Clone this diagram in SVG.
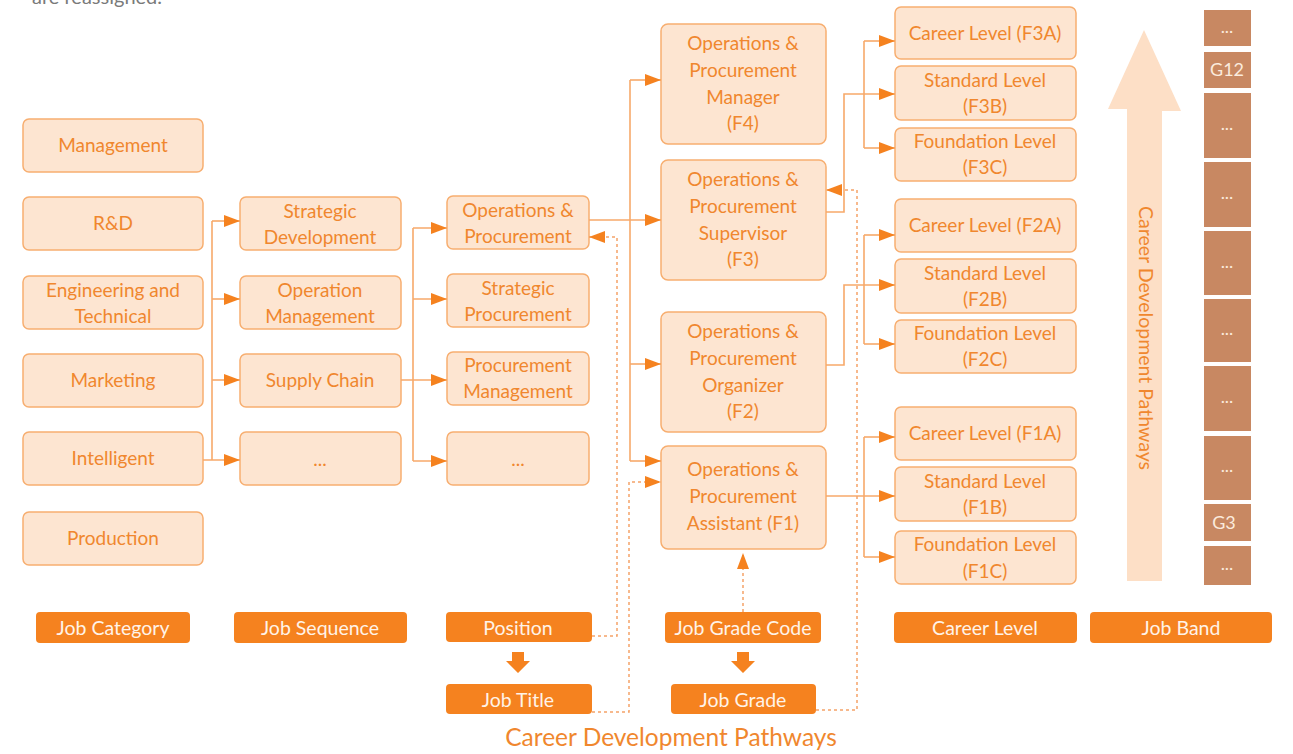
<svg xmlns="http://www.w3.org/2000/svg" width="1293" height="754" viewBox="0 0 1293 754">
  <style>
    .box { fill: #FDE5D1; stroke: #F7AE70; stroke-width: 1.5; }
    .bt { font-family: Lato, "Open Sans", "Liberation Sans", sans-serif; font-size: 19px; fill: #F0872E; text-anchor: middle; }
    .lab { fill: #F5821F; }
    .lt { font-family: Lato, "Open Sans", "Liberation Sans", sans-serif; font-size: 19.5px; fill: #FFF3E8; text-anchor: middle; }
    .band { fill: #C88862; }
    .bandt { font-family: Lato, "Open Sans", "Liberation Sans", sans-serif; font-size: 18px; fill: #FBEBDD; text-anchor: middle; }
    .conn { fill: none; stroke: #F7A96A; stroke-width: 1.6; }
    .dot { fill: none; stroke: #F5A368; stroke-width: 1.5; stroke-dasharray: 3 3; }
  </style>
  <defs>
    <marker id="arrow" markerUnits="userSpaceOnUse" markerWidth="16" markerHeight="12" refX="16" refY="6" orient="auto">
      <path d="M0,0 L16,6 L0,12 Z" fill="#F5821F"/>
    </marker>
  </defs>

  <!-- caption line running off the top edge -->
  <text x="32" y="4" font-family="Lato, 'Open Sans', 'Liberation Sans', sans-serif" font-size="20" fill="#7A7A7A">are reassigned.</text>

  <!-- Job categories -->
  <g id="cat-management"><rect class="box" x="23" y="119" width="180" height="53" rx="6"/><text class="bt" x="113" y="152">Management</text></g>
  <g id="cat-rnd"><rect class="box" x="23" y="197" width="180" height="53" rx="6"/><text class="bt" x="113" y="230">R&amp;D</text></g>
  <g id="cat-eng"><rect class="box" x="23" y="276" width="180" height="53" rx="6"/><text class="bt" x="113" y="297">Engineering and</text><text class="bt" x="113" y="323">Technical</text></g>
  <g id="cat-marketing"><rect class="box" x="23" y="354" width="180" height="53" rx="6"/><text class="bt" x="113" y="387">Marketing</text></g>
  <g id="cat-intelligent"><rect class="box" x="23" y="432" width="180" height="53" rx="6"/><text class="bt" x="113" y="465">Intelligent</text></g>
  <g id="cat-production"><rect class="box" x="23" y="512" width="180" height="53" rx="6"/><text class="bt" x="113" y="545">Production</text></g>

  <!-- Job sequences -->
  <g id="seq-strategic"><rect class="box" x="240" y="197" width="161" height="53" rx="6"/><text class="bt" x="320" y="218">Strategic</text><text class="bt" x="320" y="244">Development</text></g>
  <g id="seq-operation"><rect class="box" x="240" y="276" width="161" height="53" rx="6"/><text class="bt" x="320" y="297">Operation</text><text class="bt" x="320" y="323">Management</text></g>
  <g id="seq-supply"><rect class="box" x="240" y="354" width="161" height="53" rx="6"/><text class="bt" x="320" y="387">Supply Chain</text></g>
  <g id="seq-more"><rect class="box" x="240" y="432" width="161" height="53" rx="6"/><text class="bt" x="320" y="466">...</text></g>

  <!-- Positions -->
  <g id="pos-opsproc"><rect class="box" x="447" y="196" width="142" height="53" rx="6"/><text class="bt" x="518" y="217">Operations &amp;</text><text class="bt" x="518" y="243">Procurement</text></g>
  <g id="pos-strategic"><rect class="box" x="447" y="274" width="142" height="53" rx="6"/><text class="bt" x="518" y="295">Strategic</text><text class="bt" x="518" y="321">Procurement</text></g>
  <g id="pos-procmgmt"><rect class="box" x="447" y="352" width="142" height="53" rx="6"/><text class="bt" x="518" y="372">Procurement</text><text class="bt" x="518" y="398">Management</text></g>
  <g id="pos-more"><rect class="box" x="447" y="432" width="142" height="53" rx="6"/><text class="bt" x="518" y="466">...</text></g>

  <!-- Job titles by grade code -->
  <g id="title-f4"><rect class="box" x="661" y="24" width="165" height="120" rx="7"/><text class="bt" x="743" y="50">Operations &amp;</text><text class="bt" x="743" y="77">Procurement</text><text class="bt" x="743" y="104">Manager</text><text class="bt" x="743" y="130">(F4)</text></g>
  <g id="title-f3"><rect class="box" x="661" y="160" width="165" height="120" rx="7"/><text class="bt" x="743" y="186">Operations &amp;</text><text class="bt" x="743" y="213">Procurement</text><text class="bt" x="743" y="240">Supervisor</text><text class="bt" x="743" y="266">(F3)</text></g>
  <g id="title-f2"><rect class="box" x="661" y="312" width="165" height="120" rx="7"/><text class="bt" x="743" y="338">Operations &amp;</text><text class="bt" x="743" y="365">Procurement</text><text class="bt" x="743" y="392">Organizer</text><text class="bt" x="743" y="418">(F2)</text></g>
  <g id="title-f1"><rect class="box" x="661" y="446" width="165" height="103" rx="7"/><text class="bt" x="743" y="476">Operations &amp;</text><text class="bt" x="743" y="503">Procurement</text><text class="bt" x="743" y="530">Assistant (F1)</text></g>

  <!-- Career levels -->
  <g id="lvl-f3a"><rect class="box" x="895" y="7" width="181" height="52" rx="6"/><text class="bt" x="985" y="40">Career Level (F3A)</text></g>
  <g id="lvl-f3b"><rect class="box" x="895" y="66" width="181" height="54" rx="6"/><text class="bt" x="985" y="87">Standard Level</text><text class="bt" x="985" y="113">(F3B)</text></g>
  <g id="lvl-f3c"><rect class="box" x="895" y="128" width="181" height="53" rx="6"/><text class="bt" x="985" y="148">Foundation Level</text><text class="bt" x="985" y="174">(F3C)</text></g>
  <g id="lvl-f2a"><rect class="box" x="895" y="199" width="181" height="53" rx="6"/><text class="bt" x="985" y="232">Career Level (F2A)</text></g>
  <g id="lvl-f2b"><rect class="box" x="895" y="259" width="181" height="54" rx="6"/><text class="bt" x="985" y="280">Standard Level</text><text class="bt" x="985" y="306">(F2B)</text></g>
  <g id="lvl-f2c"><rect class="box" x="895" y="320" width="181" height="53" rx="6"/><text class="bt" x="985" y="340">Foundation Level</text><text class="bt" x="985" y="366">(F2C)</text></g>
  <g id="lvl-f1a"><rect class="box" x="895" y="407" width="181" height="53" rx="6"/><text class="bt" x="985" y="440">Career Level (F1A)</text></g>
  <g id="lvl-f1b"><rect class="box" x="895" y="467" width="181" height="54" rx="6"/><text class="bt" x="985" y="488">Standard Level</text><text class="bt" x="985" y="514">(F1B)</text></g>
  <g id="lvl-f1c"><rect class="box" x="895" y="531" width="181" height="53" rx="6"/><text class="bt" x="985" y="551">Foundation Level</text><text class="bt" x="985" y="578">(F1C)</text></g>

  <!-- Upward pathway arrow -->
  <g id="pathway-arrow">
    <path d="M1144,30 L1181,111 L1162,111 L1162,581 L1127,581 L1127,109 L1108,109 Z" fill="#FDDFC6"/>
    <text transform="translate(1139,338) rotate(90)" font-family="Lato, 'Open Sans', 'Liberation Sans', sans-serif" font-size="19.5" fill="#F0872E" text-anchor="middle">Career Development Pathways</text>
  </g>

  <!-- Job band cells -->
  <g id="job-band">
    <rect class="band" x="1204" y="10" width="47" height="36"/><text class="bandt" x="1227" y="33">...</text>
    <rect class="band" x="1204" y="52" width="47" height="36"/><text class="bandt" x="1227" y="76">G12</text>
    <rect class="band" x="1204" y="93" width="47" height="65"/><text class="bandt" x="1227" y="130">...</text>
    <rect class="band" x="1204" y="162" width="47" height="65"/><text class="bandt" x="1227" y="199">...</text>
    <rect class="band" x="1204" y="231" width="47" height="64"/><text class="bandt" x="1227" y="268">...</text>
    <rect class="band" x="1204" y="299" width="47" height="63"/><text class="bandt" x="1227" y="335">...</text>
    <rect class="band" x="1204" y="366" width="47" height="65"/><text class="bandt" x="1227" y="403">...</text>
    <rect class="band" x="1204" y="436" width="47" height="64"/><text class="bandt" x="1227" y="472">...</text>
    <rect class="band" x="1204" y="504" width="47" height="37"/><text class="bandt" x="1224" y="529">G3</text>
    <rect class="band" x="1204" y="546" width="47" height="39"/><text class="bandt" x="1227" y="570">...</text>
  </g>

  <!-- Column labels -->
  <g id="label-category"><rect class="lab" x="36" y="612" width="154" height="31" rx="4"/><text class="lt" x="113" y="635">Job Category</text></g>
  <g id="label-sequence"><rect class="lab" x="234" y="612" width="173" height="31" rx="4"/><text class="lt" x="320" y="635">Job Sequence</text></g>
  <g id="label-position"><rect class="lab" x="446" y="612" width="146" height="30" rx="4"/><text class="lt" x="518" y="635">Position</text></g>
  <g id="label-title"><rect class="lab" x="446" y="684" width="146" height="30" rx="4"/><text class="lt" x="518" y="707">Job Title</text></g>
  <g id="label-gradecode"><rect class="lab" x="665" y="612" width="156" height="31" rx="4"/><text class="lt" x="743" y="635">Job Grade Code</text></g>
  <g id="label-grade"><rect class="lab" x="671" y="684" width="145" height="30" rx="4"/><text class="lt" x="743" y="707">Job Grade</text></g>
  <g id="label-career"><rect class="lab" x="894" y="612" width="183" height="31" rx="4"/><text class="lt" x="985" y="635">Career Level</text></g>
  <g id="label-band"><rect class="lab" x="1090" y="612" width="182" height="31" rx="4"/><text class="lt" x="1181" y="635">Job Band</text></g>

  <!-- Block arrows between paired labels -->
  <g id="down-arrows" fill="#F5821F">
    <path d="M512,652 H524 V661 H530 L518,673 L506,661 H512 Z"/>
    <path d="M737,652 H749 V661 H755 L743,673 L731,661 H737 Z"/>
  </g>

  <!-- Connectors -->
  <g id="connectors">
    <!-- category to sequence -->
    <path class="conn" d="M212,221 V460"/>
    <path class="conn" d="M203,460 H240" marker-end="url(#arrow)"/>
    <path class="conn" d="M212,221 H240" marker-end="url(#arrow)"/>
    <path class="conn" d="M212,299 H240" marker-end="url(#arrow)"/>
    <path class="conn" d="M212,380 H240" marker-end="url(#arrow)"/>
    <!-- sequence to position -->
    <path class="conn" d="M413,228 V461"/>
    <path class="conn" d="M401,380 H447" marker-end="url(#arrow)"/>
    <path class="conn" d="M413,228 H447" marker-end="url(#arrow)"/>
    <path class="conn" d="M413,299 H447" marker-end="url(#arrow)"/>
    <path class="conn" d="M413,461 H447" marker-end="url(#arrow)"/>
    <!-- position to job titles -->
    <path class="conn" d="M630,80 V461"/>
    <path class="conn" d="M589,220 H661" marker-end="url(#arrow)"/>
    <path class="conn" d="M630,80 H661" marker-end="url(#arrow)"/>
    <path class="conn" d="M630,364 H661" marker-end="url(#arrow)"/>
    <path class="conn" d="M630,461 H661" marker-end="url(#arrow)"/>
    <!-- F3 to career levels -->
    <path class="conn" d="M826,212 H844 V94 H895" marker-end="url(#arrow)"/>
    <path class="conn" d="M864,41 V148"/>
    <path class="conn" d="M864,41 H895" marker-end="url(#arrow)"/>
    <path class="conn" d="M864,148 H895" marker-end="url(#arrow)"/>
    <!-- F2 to career levels -->
    <path class="conn" d="M826,365 H844 V285 H895" marker-end="url(#arrow)"/>
    <path class="conn" d="M864,235 V344"/>
    <path class="conn" d="M864,235 H895" marker-end="url(#arrow)"/>
    <path class="conn" d="M864,344 H895" marker-end="url(#arrow)"/>
    <!-- F1 to career levels -->
    <path class="conn" d="M826,496 H895" marker-end="url(#arrow)"/>
    <path class="conn" d="M864,437 V557"/>
    <path class="conn" d="M864,437 H895" marker-end="url(#arrow)"/>
    <path class="conn" d="M864,557 H895" marker-end="url(#arrow)"/>
    <!-- dotted references -->
    <path class="dot" d="M592,636 H617 V237 H589" marker-end="url(#arrow)"/>
    <path class="dot" d="M592,712 H629 V482 H661" marker-end="url(#arrow)"/>
    <path class="dot" d="M816,710 H857 V190 H826" marker-end="url(#arrow)"/>
    <path class="dot" d="M743,612 V553" marker-end="url(#arrow)"/>
  </g>

  <!-- Footer title -->
  <text x="671" y="746" font-family="Lato, 'Open Sans', 'Liberation Sans', sans-serif" font-size="24.5" fill="#F0872E" text-anchor="middle">Career Development Pathways</text>
</svg>
